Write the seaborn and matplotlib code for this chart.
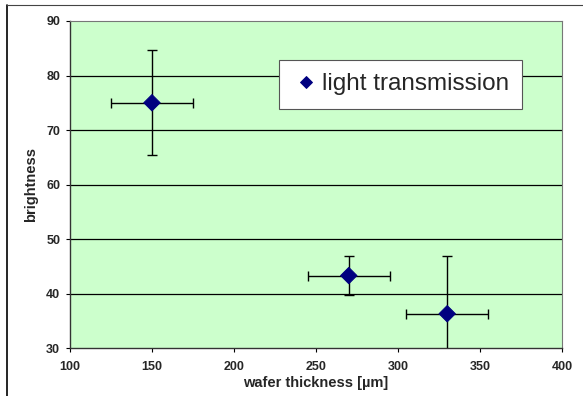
import matplotlib
matplotlib.use("Agg")
import matplotlib.pyplot as plt
import numpy as np
import pandas as pd
import seaborn as sns

thickness = [150, 270, 330]
brightness = [75.0, 43.3, 36.3]
thickness_err = [25, 25, 25]
brightness_err = [9.6, 3.5, 10.5]

x_ticks = [100, 150, 200, 250, 300, 350, 400]
y_ticks = [30, 40, 50, 60, 70, 80, 90]

sns.set_style("white")
plt.rcParams['font.family'] = ['Liberation Sans', 'DejaVu Sans']

df = pd.DataFrame({"wafer thickness": thickness, "brightness": brightness,
                   "series": "light transmission"})

fig = plt.figure(figsize=(5.83, 3.96), dpi=100)
# outer chart frame
fig.add_artist(plt.Line2D([0.012, 0.012], [0, 0.987], color="black", lw=1.2))
fig.add_artist(plt.Line2D([0.012, 1.0], [0.987, 0.987], color="#444444", lw=0.8))

ax = fig.add_axes([0.120, 0.121, 0.844, 0.826])
ax.set_facecolor("#CCFFCC")

ax.errorbar(thickness, brightness, xerr=thickness_err, yerr=brightness_err,
            fmt="none", ecolor="black", elinewidth=1.0, capsize=3.3,
            capthick=1.0, zorder=3)
sns.scatterplot(data=df, x="wafer thickness", y="brightness", hue="series",
                palette=["#000080"], marker="D", s=70, edgecolor="#000080",
                ax=ax, zorder=4)

ax.set_xlim(100, 400)
ax.set_ylim(30, 90)
ax.set_xticks(x_ticks)
ax.set_yticks(y_ticks)
ax.set_xticklabels([str(t) for t in x_ticks], fontsize=9, fontweight="bold")
ax.set_yticklabels([str(t) for t in y_ticks], fontsize=9, fontweight="bold")
ax.tick_params(axis="x", direction="out", length=3, width=0.8,
               color="black", bottom=True, pad=6)
ax.tick_params(axis="y", direction="out", length=3, width=0.8,
               color="black", left=True, pad=4)
for t in y_ticks[1:-1]:
    ax.axhline(t, color="black", lw=0.9, zorder=1)

for side in ["left", "bottom"]:
    ax.spines[side].set_color("#333333")
    ax.spines[side].set_linewidth(1.0)
for side in ["top", "right"]:
    ax.spines[side].set_color("#777777")
    ax.spines[side].set_linewidth(0.8)

ax.set_xlabel("wafer thickness [µm]", fontsize=10.5, fontweight="bold", labelpad=2.5)
ax.set_ylabel("brightness", fontsize=10.5, fontweight="bold", labelpad=5.5)

leg = ax.legend(loc="upper left", bbox_to_anchor=(0.425, 0.881), borderaxespad=0,
                fontsize=17.5, frameon=True, fancybox=False, framealpha=1,
                edgecolor="#555555", handlelength=1.1, handletextpad=0.1,
                borderpad=0.55, markerscale=0.75)
leg.get_frame().set_linewidth(0.8)

fig.savefig("out.png", dpi=100)
